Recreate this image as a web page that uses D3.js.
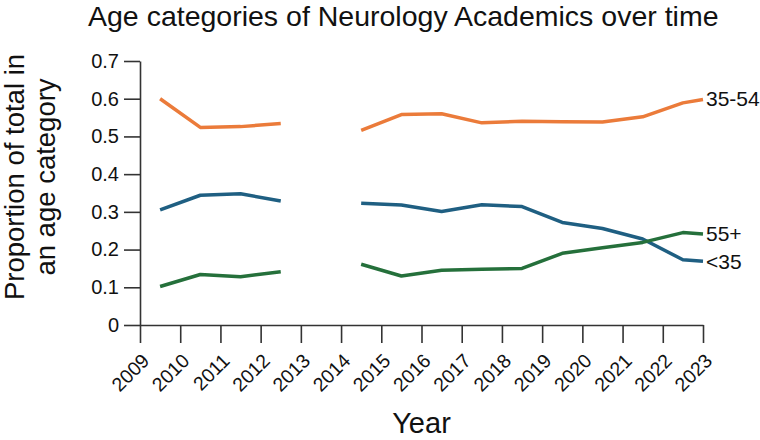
<!DOCTYPE html>
<html>
<head>
<meta charset="utf-8">
<script src="https://cdn.jsdelivr.net/npm/d3@7/dist/d3.min.js"></script>
<style>
  html, body { margin: 0; padding: 0; background: #fff; }
  svg { display: block; font-family: "Liberation Sans", Arial, Helvetica, sans-serif; }
</style>
</head>
<body>
<svg id="chart" width="760" height="440"></svg>
<script>
// ---- data ----
const years = [2009.5, 2010.5, 2011.5, 2012.5, 2013.5, 2014.5, 2015.5, 2016.5, 2017.5, 2018.5, 2019.5, 2020.5, 2021.5, 2022.5, 2023];
const mid    = [0.600, 0.524, 0.526, 0.534, null, 0.516, 0.558, 0.560, 0.536, 0.540, 0.539, 0.538, 0.552, 0.589, 0.598];
const young  = [0.305, 0.344, 0.348, 0.329, null, 0.323, 0.318, 0.301, 0.319, 0.314, 0.272, 0.256, 0.228, 0.173, 0.169];
const senior = [0.102, 0.134, 0.128, 0.141, null, 0.161, 0.130, 0.145, 0.148, 0.150, 0.190, 0.205, 0.219, 0.245, 0.241];
const seriesNames = ["35-54", "<35", "55+"];
const seriesColors = ["#EB7B3A", "#1F5F82", "#25703B"];
const xTicks = [2009, 2010, 2011, 2012, 2013, 2014, 2015, 2016, 2017, 2018, 2019, 2020, 2021, 2022, 2023];
const yTicks = [0, 0.1, 0.2, 0.3, 0.4, 0.5, 0.6, 0.7];
const titleText = "Age categories of Neurology Academics over time";
const xTitle = "Year";
const yTitleLines = ["Proportion of total in", "an age category"];

// ---- layout ----
const svg = d3.select("#chart");
const x = d3.scaleLinear().domain([2009, 2023]).range([140, 703]);
const y = d3.scaleLinear().domain([0, 0.7]).range([325, 61]);
const axisColor = "#333";
const textColor = "#111";

// title
svg.append("text")
  .attr("x", 88).attr("y", 26)
  .attr("font-size", 28.5)
  .attr("fill", textColor)
  .text(titleText);

// y axis
const gy = svg.append("g")
  .attr("transform", `translate(${x(2009)},0)`)
  .call(d3.axisLeft(y).tickValues(yTicks).tickSize(16).tickSizeOuter(0).tickPadding(5)
    .tickFormat(d => d === 0 ? "0" : d3.format(".1f")(d)));
gy.selectAll("text").attr("font-size", 20).attr("fill", textColor).attr("font-family", null);
gy.selectAll("line,path").attr("stroke", axisColor).attr("stroke-width", 1.6);

// x axis
const gx = svg.append("g")
  .attr("transform", `translate(0,${y(0)})`)
  .call(d3.axisBottom(x).tickValues(xTicks).tickSize(18).tickSizeOuter(0).tickFormat(d3.format("d")));
gx.selectAll("line,path").attr("stroke", axisColor).attr("stroke-width", 1.6);
gx.selectAll("text")
  .attr("font-size", 19.5).attr("fill", textColor).attr("font-family", null)
  .attr("text-anchor", "end")
  .attr("y", 0).attr("dy", null)
  .attr("transform", "translate(10,37) rotate(-45)");

// axis titles
svg.append("text")
  .attr("x", (x.range()[0] + x.range()[1]) / 2).attr("y", 433)
  .attr("text-anchor", "middle").attr("font-size", 29).attr("fill", textColor)
  .text(xTitle);

yTitleLines.forEach((t, i) => {
  svg.append("text")
    .attr("transform", `translate(${24 + i * 31},177) rotate(-90)`)
    .attr("text-anchor", "middle").attr("font-size", 27.5).attr("fill", textColor)
    .text(t);
});

// lines
const seriesVals = [mid, young, senior];
const line = d3.line()
  .defined(d => d.v !== null)
  .x(d => x(d.yr))
  .y(d => y(d.v));

seriesVals.forEach((vals, i) => {
  const pts = years.map((yr, j) => ({ yr, v: vals[j] }));
  svg.append("path")
    .datum(pts)
    .attr("fill", "none")
    .attr("stroke", seriesColors[i])
    .attr("stroke-width", 3.5)
    .attr("stroke-linejoin", "round")
    .attr("d", line);
  const last = pts[pts.length - 1];
  svg.append("text")
    .attr("x", x(last.yr) + 3)
    .attr("y", y(last.v) + (seriesNames[i] === "<35" ? 2 : 1))
    .attr("dominant-baseline", "middle")
    .attr("font-size", 21).attr("fill", textColor)
    .text(seriesNames[i]);
});
</script>
</body>
</html>
